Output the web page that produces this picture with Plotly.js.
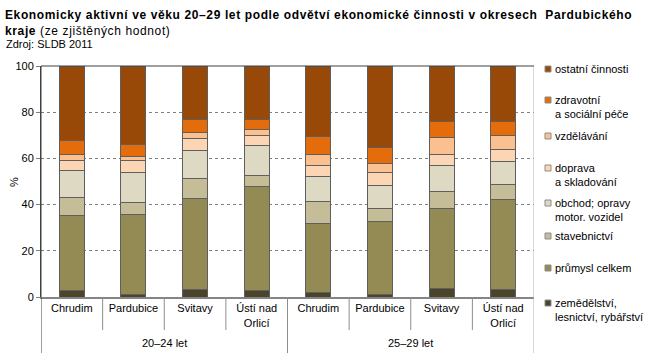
<!DOCTYPE html>
<html>
<head>
<meta charset="utf-8">
<script src="https://cdn.plot.ly/plotly-3.0.1.min.js"></script>
<style>
html,body{margin:0;padding:0;background:#fff;}
#chart{width:660px;height:353px;}
#chart text.gtitle{letter-spacing:0.62px;}
</style>
</head>
<body>
<div id="chart"></div>
<script>
// ---- data ----
const districts = ["Chrudim", "Pardubice", "Svitavy", "Ústí nad<br>Orlicí", "Chrudim", "Pardubice", "Svitavy", "Ústí nad<br>Orlicí"];
const ageGroups = ["20–24 let", "25–29 let"];
const groupOf = [0, 0, 0, 0, 1, 1, 1, 1];

const seriesNames = [
  "zemědělství,<br>lesnictví, rybářství",
  "průmysl celkem",
  "stavebnictví",
  "obchod; opravy<br>motor. vozidel",
  "doprava<br>a skladování",
  "vzdělávání",
  "zdravotní<br>a sociální péče",
  "ostatní činnosti"
];
const zemedelstvi = [2.7, 1.0, 3.2, 2.7, 1.9, 1.0, 3.6, 3.3];
const prumysl     = [32.7, 34.9, 39.5, 45.2, 30.0, 31.5, 34.5, 39.0];
const stavebnictvi= [7.6, 4.8, 8.7, 4.8, 9.5, 5.6, 7.6, 6.5];
const obchod      = [11.8, 13.3, 11.9, 13.0, 10.7, 10.2, 11.3, 9.9];
const doprava     = [4.4, 5.2, 5.4, 4.3, 4.9, 5.8, 4.6, 5.1];
const vzdelavani  = [2.6, 1.7, 2.4, 2.6, 4.9, 3.6, 7.5, 6.2];
const zdravotni   = [5.9, 5.0, 5.7, 4.2, 7.5, 6.9, 6.9, 6.0];
const ostatni     = [32.3, 34.1, 23.2, 23.2, 30.6, 35.4, 24.0, 24.0];
const seriesValues = [zemedelstvi, prumysl, stavebnictvi, obchod, doprava, vzdelavani, zdravotni, ostatni];
const seriesColors = ["#4a452a", "#948a54", "#c4bd97", "#ddd9c3", "#fcd5b5", "#fac090", "#e46c0a", "#984807"];
const yTicks = [0, 20, 40, 60, 80, 100];

// ---- geometry helpers (layout only) ----
const M = {l: 41, r: 126, t: 66, b: 56};
const W = 660, H = 353;
const PW = W - M.l - M.r, PH = H - M.t - M.b;
const px = X => (X - M.l) / PW;
const py = Y => (H - M.b - Y) / PH;
const FONT = "Liberation Sans, Arial, sans-serif";

const xIdx = districts.map((_, i) => i);

const traces = seriesNames.map((name, s) => ({
  type: "bar",
  name: name,
  x: xIdx,
  y: seriesValues[s],
  marker: {color: seriesColors[s], line: {color: "#5f5f5f", width: 1}},
  showlegend: false,
  hoverinfo: "skip"
}));

const shapes = [];
const annotations = [];

// category separators
for (let i = 0; i < districts.length - 1; i++) {
  if (groupOf[i] !== groupOf[i + 1]) continue;
  shapes.push({type: "line", xref: "x", yref: "paper", x0: i + 0.5, x1: i + 0.5,
    y0: 0, y1: py(330), line: {color: "#8c8c8c", width: 1}, layer: "above"});
}
// group dividers
const bounds = [-0.5];
for (let i = 0; i < districts.length - 1; i++) if (groupOf[i] !== groupOf[i + 1]) bounds.push(i + 0.5);
bounds.push(districts.length - 0.5);
bounds.forEach((b, k) => {
  const first = k === 0, last = k === bounds.length - 1;
  shapes.push({type: "line", xref: "x", yref: "paper", x0: b, x1: b,
    y0: first || last ? 1 : 0, y1: py(H),
    line: {color: first ? "#404040" : (last ? "#b0b0b0" : "#8c8c8c"), width: 1}, layer: "above"});
});
// top border
shapes.push({type: "line", xref: "paper", yref: "paper", x0: 0, x1: 1, y0: 1, y1: 1,
  line: {color: "#404040", width: 1}, layer: "above"});

// group labels
ageGroups.forEach((g, k) => {
  const idx = xIdx.filter(i => groupOf[i] === k);
  const mid = (idx[0] + idx[idx.length - 1]) / 2;
  annotations.push({text: g, xref: "x", yref: "paper", x: mid, y: py(342.5),
    xanchor: "center", yanchor: "middle", showarrow: false,
    font: {family: FONT, size: 11, color: "#000"}});
});

// legend (top to bottom)
const legendRowY = [69, 100, 136, 168, 203, 236, 268, 303];
const LH = 13.5;
for (let k = 0; k < seriesNames.length; k++) {
  const s = seriesNames.length - 1 - k;
  const Y = legendRowY[k];
  const nLines = seriesNames[s].split("<br>").length;
  shapes.push({type: "rect", xref: "paper", yref: "paper",
    x0: px(545), x1: px(551), y0: py(Y - 3), y1: py(Y + 3),
    fillcolor: seriesColors[s], line: {color: "#8c8c8c", width: 1}});
  annotations.push({text: seriesNames[s], xref: "paper", yref: "paper",
    x: px(553), y: py(Y + (nLines - 1) * LH / 2), xanchor: "left", yanchor: "middle",
    align: "left", showarrow: false,
    font: {family: FONT, size: 11, color: "#000"}});
}

// y-axis unit label
annotations.push({text: "%", xref: "paper", yref: "paper", x: px(14), y: py(182),
  xanchor: "center", yanchor: "middle", textangle: -90, showarrow: false,
  font: {family: FONT, size: 11, color: "#000"}});

// source
annotations.push({text: "Zdroj: SLDB 2011", xref: "paper", yref: "paper",
  x: px(4), y: py(43.5), xanchor: "left", yanchor: "middle", showarrow: false,
  font: {family: FONT, size: 11, color: "#000"}});

const layout = {
  width: W, height: H,
  margin: M,
  paper_bgcolor: "#fff", plot_bgcolor: "#fff",
  font: {family: FONT, size: 11, color: "#000"},
  title: {
    text: "<b>Ekonomicky aktivní ve věku 20–29 let podle odvětví ekonomické činnosti v okresech  Pardubického<br>kraje</b> (ze zjištěných hodnot)",
    font: {family: FONT, size: 12, color: "#000"},
    xref: "container", yref: "container", x: 5 / W, xanchor: "left",
    y: 1 - 19 / H, yanchor: "top", pad: {t: 0, l: 0}
  },
  barmode: "stack",
  bargap: 0.595,
  xaxis: {
    range: [-0.5, districts.length - 0.5],
    tickmode: "array", tickvals: xIdx, ticktext: districts,
    ticks: "", showgrid: false, zeroline: false,
    showline: true, linecolor: "#858585", linewidth: 2,
    tickfont: {size: 11, color: "#000"}
  },
  yaxis: {
    range: [0, 100], tickmode: "array", tickvals: yTicks,
    ticks: "outside", ticklen: 4, tickcolor: "#808080",
    showgrid: true, gridcolor: "#808080", griddash: "dot", gridwidth: 1,
    zeroline: false, showline: true, linecolor: "#404040", linewidth: 1,
    tickfont: {size: 11, color: "#000"}
  },
  shapes: shapes,
  annotations: annotations
};

Plotly.newPlot("chart", traces, layout, {staticPlot: true, displayModeBar: false});
</script>
</body>
</html>
